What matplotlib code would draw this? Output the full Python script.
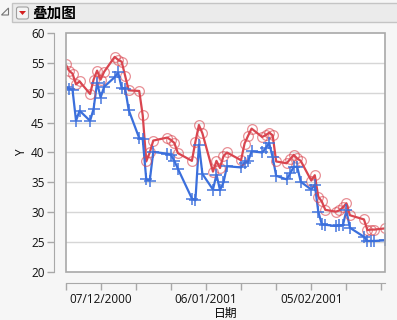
import pandas as pd
import matplotlib
matplotlib.use("Agg")
import matplotlib.pyplot as plt
from matplotlib.patches import Rectangle, Polygon, FancyBboxPatch
from matplotlib.ticker import FixedLocator, FixedFormatter

plt.rcParams["font.family"] = ["Open Sans", "Noto Sans CJK SC", "DejaVu Sans"]

dates = [
   "2000-11-27", "2000-11-28", "2000-11-29", "2000-11-30", "2000-12-01",
   "2000-12-04", "2000-12-05", "2000-12-06", "2000-12-07", "2000-12-08",
   "2000-12-11", "2000-12-12", "2000-12-13", "2000-12-14", "2000-12-15",
   "2000-12-18", "2000-12-19", "2000-12-20", "2000-12-21", "2000-12-22",
   "2000-12-26", "2000-12-27", "2000-12-28", "2000-12-29",
   "2001-01-02", "2001-01-03", "2001-01-04", "2001-01-05",
   "2001-01-08", "2001-01-09", "2001-01-10", "2001-01-11", "2001-01-12",
   "2001-01-16", "2001-01-17", "2001-01-18", "2001-01-19",
   "2001-01-22", "2001-01-23", "2001-01-24", "2001-01-25", "2001-01-26",
   "2001-01-29", "2001-01-30", "2001-01-31", "2001-02-01", "2001-02-02",
   "2001-02-05", "2001-02-06", "2001-02-07", "2001-02-08", "2001-02-09",
   "2001-02-12", "2001-02-13", "2001-02-14", "2001-02-15", "2001-02-16",
   "2001-02-20", "2001-02-21", "2001-02-22", "2001-02-23",
   "2001-02-26",
]

# red series (circles)
y_high = [
   54.8, 53.7, 53.2, 51.4, 51.9,
   49.8, 52.2, 53.7, 52.2, 53.5,
   56.0, 55.5, 55.2, 52.8, 50.4,
   50.3, 46.2, 38.5, 40.0, 42.0,
   42.5, 42.1, 41.6, 39.9,
   38.6, 41.8, 44.6, 43.2,
   36.8, 38.6, 37.4, 39.4, 40.0,
   38.7, 41.5, 42.8, 44.0,
   42.6, 42.9, 43.3, 42.9, 38.5,
   38.2, 38.9, 39.6, 39.0, 38.6,
   35.3, 36.2, 32.6, 31.8, 30.4,
   30.1, 30.3, 30.8, 31.5, 29.5,
   28.8, 27.0, 27.1, 27.1,
   27.3,
]

# blue series (crosses)
y_low = [
   51.0, 50.7, 50.5, 45.3, 47.0,
   45.3, 47.3, 51.7, 49.2, 51.0,
   52.6, 53.4, 50.8, 50.7, 47.1,
   42.4, 42.2, 35.5, 35.3, 40.1,
   39.8, 39.6, 38.6, 37.3,
   32.3, 32.0, 41.3, 36.4,
   33.8, 36.3, 33.7, 35.0, 37.7,
   37.5, 38.3, 38.5, 40.2,
   40.0, 40.7, 41.6, 39.2, 36.1,
   35.5, 36.5, 37.6, 37.6, 35.1,
   33.8, 34.6, 30.1, 28.0, 27.9,
   27.7, 27.8, 27.8, 30.3, 27.4,
   25.9, 25.2, 25.2, 25.2,
   25.3,
]

tick_dates = pd.date_range("2000-11-27", "2001-02-25", freq="10D")
tick_labels = ["", "07/12/2000", "", "", "06/01/2001", "", "", "05/02/2001", "", ""]
y_ticks = [20, 25, 30, 35, 40, 45, 50, 55, 60]

x = pd.to_datetime(dates)
W, H = 397, 320
red = "#d9454f"
blue = "#3b6fdc"
grey = "#a8a8a8"

fig = plt.figure(figsize=(W/100, H/100), dpi=100, facecolor="#f6f6f6")

def px(xp, yp):
   return (xp/W, 1 - yp/H)

# title bar
fig.add_artist(Rectangle(px(12, 22), 1, 19/H, transform=fig.transFigure,
                         facecolor="#ebebeb", edgecolor="#c4c4c4", lw=1))
fig.add_artist(Polygon([px(8.5, 8), px(8.5, 15), px(1.5, 15)], closed=True,
                       transform=fig.transFigure, facecolor="none",
                       edgecolor="#777777", lw=0.8))
fig.add_artist(FancyBboxPatch(px(16.5, 19), 12/W, 12/H, boxstyle="round,pad=0,rounding_size=0.006",
                              transform=fig.transFigure, facecolor="#f4f4f4",
                              edgecolor="#a0a0a0", lw=0.8))
fig.add_artist(Polygon([px(19, 11), px(26, 11), px(22.5, 15)], closed=True,
                       transform=fig.transFigure, facecolor="#d42020", edgecolor="none"))
fig.text(*px(32, 13), "叠加图", fontsize=10.5, fontweight="bold",
         va="center", ha="left", family=["Noto Sans CJK SC"])

ax = fig.add_axes([65.5/W, 1 - 272/H, (385 - 65.5)/W, (272 - 33)/H])
ax.set_facecolor("white")

ax.plot(x, y_high, color=red, lw=1.6, zorder=3)
ax.plot(x, y_high, ls="none", marker="o", ms=7, mfc="none", mec=red, mew=0.9,
        alpha=0.6, zorder=4)
ax.plot(x, y_low, color=blue, lw=1.6, zorder=3)
ax.plot(x, y_low, ls="none", marker="+", ms=9, mec=blue, mew=1.3,
        alpha=0.8, zorder=4)

ax.set_xlim(pd.Timestamp("2000-11-27"), pd.Timestamp("2001-02-26"))
ax.set_ylim(20, 60)
ax.set_yticks(y_ticks)
ax.xaxis.set_major_locator(FixedLocator(matplotlib.dates.date2num(tick_dates)))
ax.xaxis.set_major_formatter(FixedFormatter(tick_labels))

for v in y_ticks[1:-1]:
   ax.axhline(v, color="#d6d6d6", lw=1, zorder=1)

for s in ["top", "right"]:
   ax.spines[s].set_visible(False)
for s in ["left", "bottom"]:
   ax.spines[s].set_position(("outward", 8))
   ax.spines[s].set_color(grey)
ax.add_patch(Rectangle((0, 0), 1, 1, transform=ax.transAxes, fill=False,
                       edgecolor=grey, lw=1.2, clip_on=False, zorder=5))

ax.tick_params(axis="both", direction="out", length=5, width=1, color=grey,
               labelsize=8.5, labelcolor="#111111", pad=2)
ax.set_ylabel("Y", fontsize=8.5, labelpad=2)
ax.set_xlabel("日期", fontsize=8.5, labelpad=1, family=["Noto Sans CJK SC"])

fig.savefig("out.png", dpi=100, facecolor=fig.get_facecolor())
